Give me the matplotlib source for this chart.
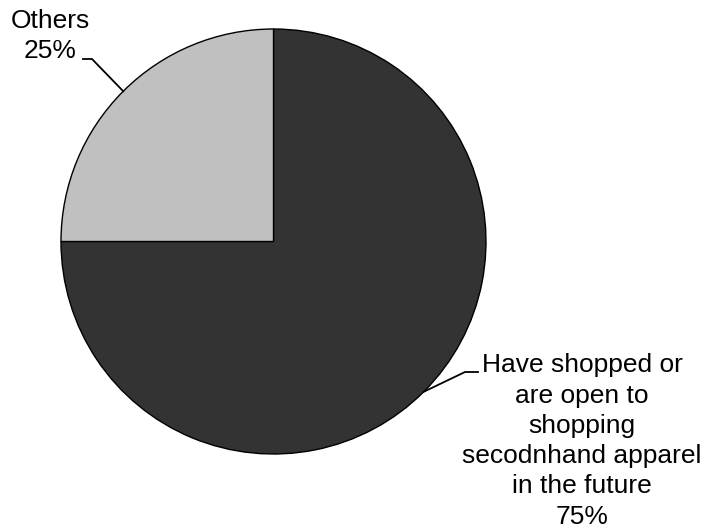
import matplotlib
matplotlib.use("Agg")
import matplotlib.pyplot as plt
import numpy as np

plt.rcParams["font.family"] = ["Liberation Sans", "DejaVu Sans"]

# -- Data --------------------------------------------------------------------
labels = [
    "Have shopped or\nare open to\nshopping\nsecodnhand apparel\nin the future",
    "Others",
]
shares = [75, 25]
colors = ["#333333", "#c0c0c0"]

W, H = 704, 529
CX, CY, R = 273.5, H - 241.5, 212.5

fig = plt.figure(figsize=(W / 100, H / 100), dpi=100)
ax = fig.add_axes([0, 0, 1, 1])

wedges, _ = ax.pie(
    shares,
    colors=colors,
    startangle=90,
    counterclock=False,
    center=(CX, CY),
    radius=R,
    wedgeprops=dict(edgecolor="black", linewidth=1.0),
    frame=True,
)
ax.set_xlim(0, W)
ax.set_ylim(0, H)
ax.set_aspect("equal")
ax.axis("off")

# label anchor: (elbow x, elbow y, end x, text x, text y)
label_spots = [
    (465, H - 372, 478, 582, H - 441),
    (92, H - 59, 83, 50, H - 36),
]

for w, lab, val, spot in zip(wedges, labels, shares, label_spots):
    mid = np.deg2rad((w.theta1 + w.theta2) / 2)
    ex, ey = CX + R * np.cos(mid), CY + R * np.sin(mid)
    elx, ely, endx, tx, ty = spot
    ax.plot([ex, elx, endx], [ey, ely, ely], color="black", linewidth=1.3)
    ax.text(tx, ty, f"{lab}\n{val}%", ha="center", va="center", fontsize=19,
            multialignment="center", linespacing=1.33)

fig.savefig("out.png", dpi=100)
